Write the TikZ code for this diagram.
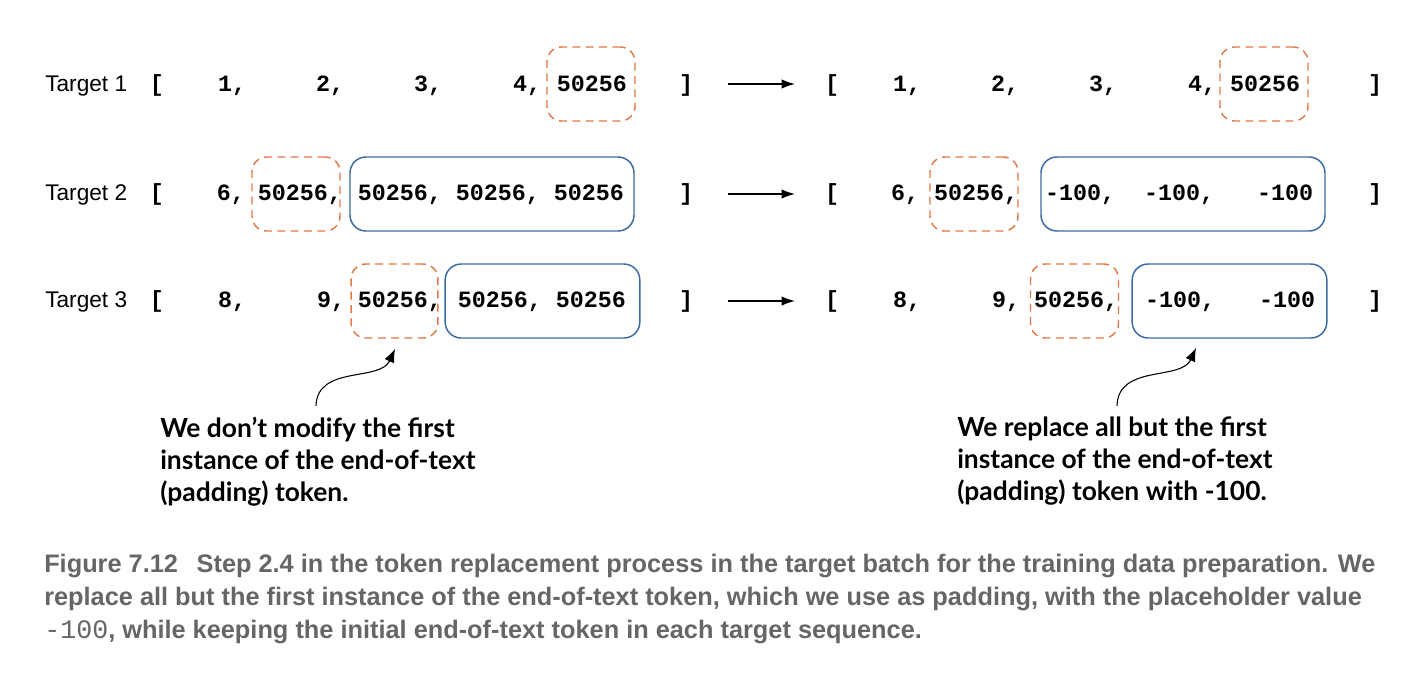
\documentclass[tikz,border=0pt]{standalone}
\usepackage{fontspec}
\setmainfont{Liberation Sans}
\newfontfamily\tokfont{Liberation Mono}
\newfontfamily\notefont{Lato}
\newfontfamily\capfont{Liberation Sans}
\newfontfamily\capmono{Liberation Mono}
\usetikzlibrary{arrows.meta}
\definecolor{padorange}{HTML}{E07A48}
\definecolor{replblue}{HTML}{3C6AA8}
\definecolor{capgray}{HTML}{666666}
\begin{document}
\begin{tikzpicture}[x=0.75pt,y=-0.75pt,
  lbl/.style={font=\fontsize{17}{19}\selectfont, anchor=base west, inner sep=0},
  tok/.style={font=\tokfont\bfseries\fontsize{17.5}{20}\selectfont, anchor=base, inner sep=0},
  padbox/.style={draw=padorange, dash pattern=on 6pt off 4pt, line width=1.1pt, rounded corners=11pt, inner sep=0},
  replbox/.style={draw=replblue, line width=1.1pt, rounded corners=12pt, inner sep=0},
  flow/.style={-{Latex[length=10pt,width=7pt]}, line width=1pt, black},
  callout/.style={-{Latex[length=10pt,width=8pt]}, line width=0.8pt, black},
  note/.style={font=\notefont\bfseries\fontsize{19.8}{24}\selectfont, anchor=north west, align=left, inner sep=0},
  captext/.style={font=\capfont\bfseries\fontsize{19}{24}\selectfont, text=capgray, anchor=base west, inner sep=0}
]
\useasboundingbox[fill=white] (0,0) rectangle (1422,676);

% boxes (drawn first)
\node[padbox, minimum width=66pt, minimum height=55.5pt] (pL1) at (591,84) {};
\node[padbox, minimum width=66pt, minimum height=55.5pt] (pR1) at (1264,84) {};
\node[padbox, minimum width=66pt, minimum height=55.5pt] (pL2) at (296,194) {};
\node[replbox, minimum width=213pt, minimum height=55.5pt] (bL2) at (492,194) {};
\node[padbox, minimum width=66pt, minimum height=55.5pt] (pR2) at (974,194) {};
\node[replbox, minimum width=213pt, minimum height=55.5pt] (bR2) at (1183,194) {};
\node[padbox, minimum width=65pt, minimum height=55.5pt] (pL3) at (394.5,301) {};
\node[replbox, minimum width=146pt, minimum height=55.5pt] (bL3) at (542.5,301) {};
\node[padbox, minimum width=66pt, minimum height=55.5pt] (pR3) at (1074.5,301) {};
\node[replbox, minimum width=146pt, minimum height=55.5pt] (bR3) at (1229.5,301) {};

% labels
\node[lbl] (t1) at (45,91) {Target 1};
\node[lbl] (t2) at (45,200) {Target 2};
\node[lbl] (t3) at (45,307) {Target 3};

% row 1
\node[tok] (l1a) at (157,91) {[};
\node[tok] (l1b) at (232,91) {1,};
\node[tok] (l1c) at (330,91) {2,};
\node[tok] (l1d) at (428,91) {3,};
\node[tok] (l1e) at (527,91) {4,};
\node[tok] (l1f) at (592,91) {50256};
\node[tok] (l1g) at (686,91) {]};
\node[tok] (r1a) at (832,91) {[};
\node[tok] (r1b) at (907,91) {1,};
\node[tok] (r1c) at (1005,91) {2,};
\node[tok] (r1d) at (1103,91) {3,};
\node[tok] (r1e) at (1202,91) {4,};
\node[tok] (r1f) at (1265,91) {50256};
\node[tok] (r1g) at (1375,91) {]};

% row 2
\node[tok] (l2a) at (157,200) {[};
\node[tok] (l2b) at (231,200) {6,};
\node[tok] (l2c) at (300,200) {50256,};
\node[tok] (l2d) at (491,200) {50256, 50256, 50256};
\node[tok] (l2g) at (686,200) {]};
\node[tok] (r2a) at (832,200) {[};
\node[tok] (r2b) at (905,200) {6,};
\node[tok] (r2c) at (976,200) {50256,};
\node[tok] (r2d) at (1080,200) {-100,};
\node[tok] (r2e) at (1179,200) {-100,};
\node[tok] (r2f) at (1285,200) {-100};
\node[tok] (r2g) at (1375,200) {]};

% row 3
\node[tok] (l3a) at (157,307) {[};
\node[tok] (l3b) at (232,307) {8,};
\node[tok] (l3c) at (331,307) {9,};
\node[tok] (l3d) at (400,307) {50256,};
\node[tok] (l3e) at (542,307) {50256, 50256};
\node[tok] (l3g) at (686,307) {]};
\node[tok] (r3a) at (832,307) {[};
\node[tok] (r3b) at (907,307) {8,};
\node[tok] (r3c) at (1006,307) {9,};
\node[tok] (r3d) at (1076,307) {50256,};
\node[tok] (r3e) at (1180,307) {-100,};
\node[tok] (r3f) at (1287,307) {-100};
\node[tok] (r3g) at (1375,307) {]};

% flow arrows
\coordinate (a1s) at (728,84); \coordinate (a1e) at (795,84);
\coordinate (a2s) at (728,194); \coordinate (a2e) at (795,194);
\coordinate (a3s) at (728,301); \coordinate (a3e) at (795,301);
\draw[flow] (a1s) -- (a1e);
\draw[flow] (a2s) -- (a2e);
\draw[flow] (a3s) -- (a3e);

% notes
\node[note] (nL) at (160,417) {We don’t modify the first\\instance of the end-of-text\\(padding) token.};
\node[note] (nR) at (957,417) {We replace all but the first\\instance of the end-of-text\\(padding) token with -100.};

\coordinate (cLs) at (316,406);
\coordinate (cLe) at (395,349);
\coordinate (cRs) at (1117,406);
\coordinate (cRe) at (1196,348);
\draw[callout] (cLs) .. controls (317,365) and (380,382) .. (cLe);
\draw[callout] (cRs) .. controls (1118,364) and (1181,381) .. (cRe);

% caption
\node[captext] (c1) at (44,572) {Figure 7.12\hspace{14pt}Step 2.4 in the token replacement process in the target batch for the training data preparation. We};
\node[captext] (c2) at (44,605) {replace all but the first instance of the end-of-text token, which we use as padding, with the placeholder value};
\node[captext] (c3) at (44,638) {{\capmono\mdseries\fontsize{20}{24}\selectfont -100}, while keeping the initial end-of-text token in each target sequence.};
\end{tikzpicture}
\end{document}
